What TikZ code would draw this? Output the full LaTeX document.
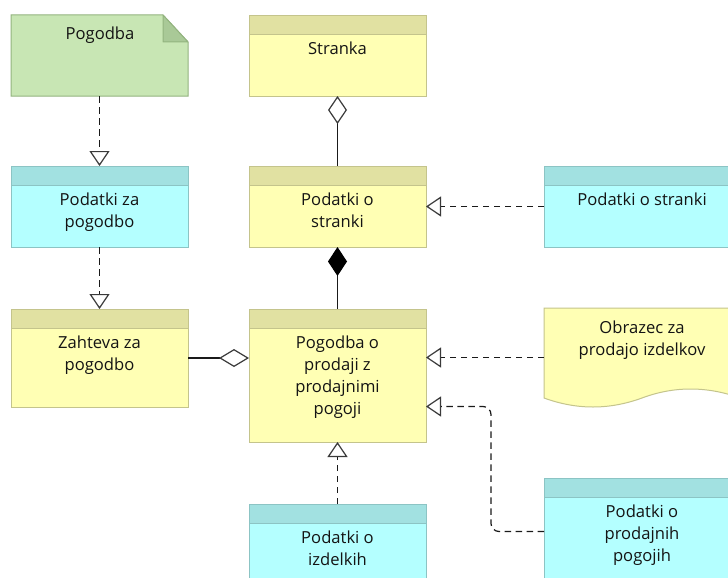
\documentclass[tikz,border=0pt]{standalone}
\usepackage{fontspec}
\setmainfont{Open Sans}
\usetikzlibrary{arrows.meta}

\definecolor{ybody}{HTML}{FFFFB4}
\definecolor{yhead}{HTML}{E1E1A2}
\definecolor{yline}{HTML}{C4C48C}
\definecolor{cbody}{HTML}{B4FFFF}
\definecolor{chead}{HTML}{A2E1E1}
\definecolor{cline}{HTML}{8CC4C4}
\definecolor{gbody}{HTML}{C8E6B4}
\definecolor{gfold}{HTML}{A9C997}
\definecolor{gline}{HTML}{93B47F}
\definecolor{conn}{HTML}{1A1A1A}
\definecolor{tip}{HTML}{3A3A3A}

\begin{document}
\begin{tikzpicture}[x=1pt,y=-1pt,
  box/.style={line width=1pt, anchor=north west, inner sep=0pt, outer sep=0pt},
  header/.style 2 args={path picture={
      \fill[#1] (path picture bounding box.north west) rectangle ([yshift=-19pt]path picture bounding box.north east);
      \draw[#2, line width=1pt] ([yshift=-19pt]path picture bounding box.north west) -- ([yshift=-19pt]path picture bounding box.north east);}},
  ybox/.style={box, draw=yline, fill=ybody, header={yhead}{yline}},
  cbox/.style={box, draw=cline, fill=cbody, header={chead}{cline}},
  frame/.style={box, draw=none},
  % multi-line labels: the base anchor sits on the last line
  txt/.style={font=\fontsize{16.6}{22}\selectfont, text=black!92, align=center, anchor=base, inner sep=0pt},
  dep/.style={draw=conn, line width=1.2pt, dash pattern=on 6.5pt off 4.5pt},
  assoc/.style={draw=conn, line width=1.2pt},
  gen/.style={-{Triangle[open, length=15pt, width=20pt, line width=1.2pt, color=tip]}},
]
\useasboundingbox (0,0) rectangle (728,578);
\fill[white] (0,0) rectangle (728,578);
\clip (0,0) rectangle (728,578);

% ---- classes ----
\node[frame, minimum width=177pt, minimum height=81pt] (pogodba) at (11,15) {};
\filldraw[gline, fill=gbody, line width=1pt]
  (11,15) -- (163,15) -- (188,42) -- (188,96) -- (11,96) -- cycle;
\filldraw[gline, fill=gfold, line width=1pt, line join=round]
  (163,15) -- (163,42) -- (188,42) -- cycle;

\node[ybox, minimum width=177pt, minimum height=80pt]  (stranka)  at (249,16)  {};
\node[cbox, minimum width=177pt, minimum height=81pt]  (pzap)     at (11,166)  {};
\node[ybox, minimum width=177pt, minimum height=81pt]  (pstr)     at (249,166) {};
\node[cbox, minimum width=196pt, minimum height=81pt]  (pstrR)    at (544,166) {};
\node[ybox, minimum width=177pt, minimum height=98pt]  (zahteva)  at (11,309)  {};
\node[ybox, minimum width=177pt, minimum height=133pt] (prodaja)  at (249,309) {};
\node[cbox, minimum width=177pt, minimum height=110pt] (izdelki)  at (249,504) {};
\node[cbox, minimum width=196pt, minimum height=130pt] (ppog)     at (544,478) {};

% document shape with a wavy lower edge
\node[frame, minimum width=196pt, minimum height=90pt] (obrazec) at (544,308) {};
\filldraw[yline, fill=ybody, line width=1pt]
  (544,308) -- (740,308) -- (740,398)
  .. controls (707,386) and (674,386) .. (642,398)
  .. controls (609,410) and (577,410) .. (544,398) -- cycle;

% ---- labels ----
\node[txt] (t-pogodba) at (100,40)  {Pogodba};
\node[txt] (t-stranka) at (337.5,55)  {Stranka};
\node[txt] (t-pzap)    at (99.5,227)  {Podatki za\\pogodbo};
\node[txt] (t-pstr)    at (337.5,227) {Podatki o\\stranki};
\node[txt] (t-pstrR)   at (642,205)   {Podatki o stranki};
\node[txt] (t-zahteva) at (99.5,370)  {Zahteva za\\pogodbo};
\node[txt] (t-prodaja) at (337.5,414) {Pogodba o\\prodaji z\\prodajnimi\\pogoji};
\node[txt] (t-obrazec) at (642,355)   {Obrazec za\\prodajo izdelkov};
\node[txt] (t-izdelki) at (337.5,565) {Podatki o\\izdelkih};
\node[txt] (t-ppog)    at (642,561)   {Podatki o\\prodajnih\\pogojih};

% ---- connectors ----
\draw[dep, gen] (pogodba.south) -- (pzap.north);
\draw[dep, gen] (pzap.south) -- (zahteva.north);
\draw[dep, gen] (pstrR.west) -- (pstr.east);
\draw[dep, gen] (obrazec.west |- 0,357.5) -- (prodaja.east |- 0,357.5);
\draw[dep, gen] (izdelki.north) -- (prodaja.south);
\draw[dep, gen, rounded corners=8pt]
  ([yshift=-53.5pt]ppog.north west) -- ++(-53,0) |- ([yshift=-97.5pt]prodaja.north east);

\draw[assoc, {Diamond[open, length=28pt, width=19pt, line width=1.2pt, color=tip]}-]
  (stranka.south) -- (pstr.north);
\draw[assoc, {Diamond[length=29pt, width=19pt, color=black]}-]
  (pstr.south) -- (prodaja.north);
\draw[assoc, -{Diamond[open, length=30pt, width=18pt, line width=1.2pt, color=tip]}]
  (zahteva.east) -- (zahteva.east -| prodaja.west);
\end{tikzpicture}
\end{document}
